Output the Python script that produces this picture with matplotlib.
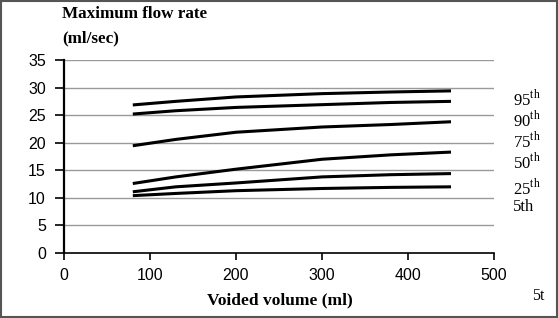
import matplotlib.pyplot as plt

plt.rcParams['mathtext.fontset'] = 'custom'
plt.rcParams['mathtext.rm'] = 'Liberation Serif'

# voided volume (ml) and percentile curves of max flow rate (ml/sec)
volume = [80, 130, 200, 300, 380, 450]
p95 = [26.85, 27.5, 28.3, 28.9, 29.2, 29.4]
p90 = [25.2, 25.8, 26.4, 26.9, 27.3, 27.5]
p75 = [19.45, 20.6, 21.9, 22.85, 23.3, 23.8]
p50 = [12.6, 13.8, 15.2, 17.0, 17.8, 18.3]
p25 = [11.1, 12.0, 12.7, 13.8, 14.2, 14.4]
p5 = [10.4, 10.8, 11.3, 11.7, 11.9, 12.0]
curves = [p95, p90, p75, p50, p25, p5]

labels = [r'95$^{\rm th}$', r'90$^{\rm th}$', r'75$^{\rm th}$',
          r'50$^{\rm th}$', r'25$^{\rm th}$', '5th']
label_y = [99, 120, 141, 162, 188, 207]   # pixel rows in the figure

W, H = 558, 318
fig = plt.figure(figsize=(W / 100, H / 100), dpi=100)
ax = fig.add_axes([64 / W, 1 - 253 / H, 430 / W, 193 / H])

for yv in range(5, 40, 5):
    ax.axhline(yv, color='#9a9a9a', lw=1, zorder=1)

for c in curves:
    ax.plot(volume, c, color='black', lw=2.2, solid_capstyle='butt', zorder=3)

ax.set_xlim(0, 500)
ax.set_ylim(0, 35)
ax.set_xticks(range(0, 501, 100))
ax.set_yticks(range(0, 36, 5))
for s in ['top', 'right']:
    ax.spines[s].set_visible(False)
ax.spines['left'].set_linewidth(1.6)
ax.spines['bottom'].set_linewidth(1.2)
ax.tick_params(axis='y', length=6.5, width=1.2, pad=6.5, labelsize=11.5)
ax.tick_params(axis='x', length=5, width=1.2, pad=5.5, labelsize=11.5)
for t in ax.get_xticklabels() + ax.get_yticklabels():
    t.set_fontfamily('Liberation Sans')

fig.text(62 / W, 1 - 14 / H, 'Maximum flow rate', family='Liberation Serif',
         weight='bold', fontsize=12.3, va='center', ha='left')
fig.text(62 / W, 1 - 38 / H, '(ml/sec)', family='Liberation Serif',
         weight='bold', fontsize=12.3, va='center', ha='left')
fig.text(280 / W, 1 - 300 / H, 'Voided volume (ml)', family='Liberation Serif',
         weight='bold', fontsize=12.5, va='center', ha='center')
fig.text(532 / W, 1 - 296 / H, '5t', family='Liberation Serif',
         fontsize=11.5, va='center', ha='left')

for lab, py in zip(labels, label_y):
    fig.text(513 / W, 1 - py / H, lab, family='Liberation Serif',
             fontsize=12, va='center', ha='left')

fig.add_artist(plt.Rectangle((0.001, 0.002), 0.997, 0.995, transform=fig.transFigure,
                             fill=False, edgecolor='#555555', lw=1.5))

fig.savefig('out.png', dpi=100)
